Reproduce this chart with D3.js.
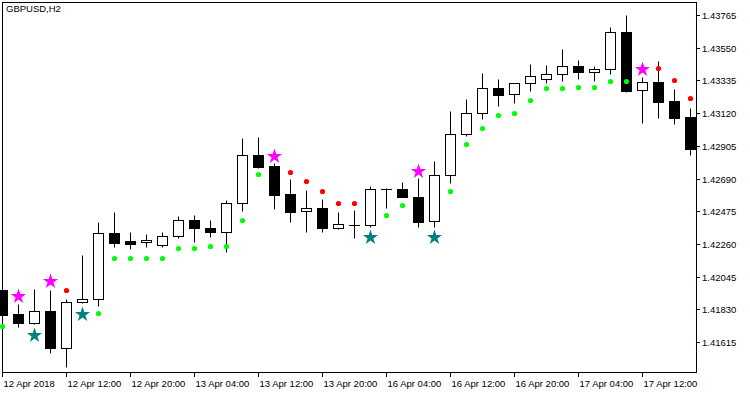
<!DOCTYPE html>
<html>
<head>
<meta charset="utf-8">
<script src="https://cdn.jsdelivr.net/npm/d3@7.9.0/dist/d3.min.js"></script>
<style>
  html, body { margin: 0; padding: 0; background: #fff; }
  svg { display: block; font-family: "Liberation Sans", Arial, sans-serif; }
</style>
</head>
<body>
<svg id="chart" width="750" height="394"></svg>
<script>
const symbolName = "GBPUSD,H2";

// H2 bars, oldest first (bar 0 is the half-hidden one at the left edge)
const opens  = [1.41955, 1.41797, 1.41738, 1.41817, 1.41574, 1.41876, 1.41896, 1.42330, 1.42278, 1.42271,
                1.42251, 1.42311, 1.42416, 1.42363, 1.42337, 1.42528, 1.42844, 1.42771, 1.42587, 1.42475,
                1.42495, 1.42363, 1.42383, 1.42383, 1.42620, 1.42620, 1.42567, 1.42409, 1.42712, 1.42982,
                1.43120, 1.43285, 1.43245, 1.43317, 1.43344, 1.43377, 1.43429, 1.43390, 1.43410, 1.43653,
                1.43271, 1.43324, 1.43199, 1.43094];
const highs  = [1.41960, 1.41863, 1.41962, 1.41955, 1.41896, 1.42186, 1.42403, 1.42469, 1.42337, 1.42324,
                1.42337, 1.42442, 1.42449, 1.42416, 1.42548, 1.42956, 1.42962, 1.42791, 1.42686, 1.42613,
                1.42554, 1.42469, 1.42482, 1.42640, 1.42626, 1.42666, 1.42692, 1.42804, 1.43133, 1.43212,
                1.43383, 1.43344, 1.43317, 1.43443, 1.43436, 1.43541, 1.43469, 1.43429, 1.43686, 1.43765,
                1.43357, 1.43462, 1.43278, 1.43153];
const lows   = [1.41785, 1.41712, 1.41731, 1.41541, 1.41448, 1.41870, 1.41850, 1.42238, 1.42225, 1.42238,
                1.42238, 1.42297, 1.42271, 1.42304, 1.42205, 1.42475, 1.42758, 1.42488, 1.42403, 1.42337,
                1.42337, 1.42357, 1.42297, 1.42370, 1.42495, 1.42567, 1.42370, 1.42370, 1.42659, 1.42969,
                1.43081, 1.43166, 1.43186, 1.43265, 1.43317, 1.43331, 1.43344, 1.43331, 1.43377, 1.43258,
                1.43054, 1.43087, 1.43048, 1.42844];
const closes = [1.41791, 1.41738, 1.41817, 1.41574, 1.41876, 1.41896, 1.42330, 1.42265, 1.42258, 1.42284,
                1.42311, 1.42416, 1.42363, 1.42337, 1.42528, 1.42844, 1.42765, 1.42580, 1.42469, 1.42495,
                1.42363, 1.42390, 1.42383, 1.42620, 1.42620, 1.42567, 1.42403, 1.42712, 1.42982, 1.43120,
                1.43285, 1.43238, 1.43317, 1.43364, 1.43377, 1.43429, 1.43390, 1.43410, 1.43653, 1.43265,
                1.43324, 1.43192, 1.43087, 1.42883];

// trailing dots: green under price (up), red over price (down), null = no dot
const sarUp = [1.41723, null, null, null, null, null, 1.41808, 1.42170, 1.42170, 1.42170,
               1.42170, 1.42236, 1.42236, 1.42249, 1.42249, 1.42420, 1.42717, null, null, null,
               null, null, null, null, 1.42447, 1.42513, null, null, 1.42605, 1.42914,
               1.43019, 1.43105, 1.43118, 1.43204, 1.43283, 1.43283, 1.43289, 1.43289, 1.43329, 1.43329,
               null, null, null, null];
const sarDown = [null, null, null, null, 1.41960, null, null, null, null, null,
                 null, null, null, null, null, null, null, null, 1.42736, 1.42671,
                 1.42611, 1.42526, 1.42526, null, null, null, null, null, null, null,
                 null, null, null, null, null, null, null, null, null, null,
                 null, 1.43414, 1.43335, 1.43217];

// signal stars
const sellBars   = [1, 3, 17, 26, 40];
const sellPrices = [1.41922, 1.42021, 1.42844, 1.42745, 1.43414];
const buyBars    = [2, 5, 23, 27];
const buyPrices  = [1.41666, 1.41808, 1.42311, 1.42315];

const yTicks = [1.43765, 1.43550, 1.43335, 1.43120, 1.42905, 1.42690, 1.42475, 1.42260, 1.42045, 1.41830, 1.41615];
const xTickBars = [0, 4, 8, 12, 16, 20, 24, 28, 32, 36, 40];
const xTickLabels = ["12 Apr 2018", "12 Apr 12:00", "12 Apr 20:00", "13 Apr 04:00", "13 Apr 12:00",
                     "13 Apr 20:00", "16 Apr 04:00", "16 Apr 12:00", "16 Apr 20:00", "17 Apr 04:00", "17 Apr 12:00"];

const svg = d3.select("#chart");
const frame = { left: 2, top: 2, right: 696, bottom: 372 };

// x gives the pixel column of a bar, +0.5 for crisp 1px lines
const x = d3.scaleLinear().domain([0, 43]).range([2, 690]);
const y = d3.scaleLinear().domain([1.41615, 1.43765]).rangeRound([342, 15]);
const px = v => v + 0.5;

// frame
svg.append("rect")
  .attr("x", frame.left + 0.5).attr("y", frame.top + 0.5)
  .attr("width", frame.right - frame.left).attr("height", frame.bottom - frame.top)
  .attr("fill", "none").attr("stroke", "#000");

svg.append("text")
  .attr("x", 6).attr("y", 12)
  .attr("font-size", 9.5)
  .text(symbolName);

// candles
const bars = d3.range(opens.length);
const candles = svg.append("g").attr("class", "candles");
bars.forEach(i => {
  const cx = px(x(i));
  const o = opens[i], c = closes[i];
  candles.append("line")
    .attr("x1", cx).attr("x2", cx)
    .attr("y1", px(y(highs[i]))).attr("y2", px(y(lows[i])))
    .attr("stroke", "#000");
  const top = px(y(Math.max(o, c)));
  const bot = px(y(Math.min(o, c)));
  if (bot - top < 1) {
    candles.append("line")
      .attr("x1", cx - 5.5).attr("x2", cx + 5.5)
      .attr("y1", top).attr("y2", top)
      .attr("stroke", "#000");
  } else {
    candles.append("rect")
      .attr("x", cx - 5).attr("y", top)
      .attr("width", 10).attr("height", bot - top)
      .attr("fill", c >= o ? "#fff" : "#000")
      .attr("stroke", "#000");
  }
});

// dots
const dots = svg.append("g").attr("class", "dots");
bars.forEach(i => {
  if (sarUp[i] != null)
    dots.append("circle").attr("cx", px(x(i))).attr("cy", px(y(sarUp[i]))).attr("r", 2.6).attr("fill", "#00ff00");
  if (sarDown[i] != null)
    dots.append("circle").attr("cx", px(x(i))).attr("cy", px(y(sarDown[i]))).attr("r", 2.6).attr("fill", "#ff0000");
});

// stars
const star = d3.symbol().type(d3.symbolStar).size(72);
sellBars.forEach((b, k) => {
  svg.append("path").attr("d", star)
    .attr("transform", `translate(${px(x(b))},${y(sellPrices[k]) + 1.5})`)
    .attr("fill", "#ff00ff");
});
buyBars.forEach((b, k) => {
  svg.append("path").attr("d", star)
    .attr("transform", `translate(${px(x(b))},${y(buyPrices[k]) + 1.5})`)
    .attr("fill", "#008080");
});

// axes
const xAxis = svg.append("g")
  .attr("transform", `translate(0,${frame.bottom})`)
  .call(d3.axisBottom(x).tickValues(xTickBars).tickSize(5).tickFormat((d, i) => xTickLabels[i]));
xAxis.select(".domain").remove();
xAxis.selectAll("text")
  .attr("text-anchor", "start").attr("x", 1)
  .attr("font-size", 9.5).attr("font-family", "Liberation Sans, Arial, sans-serif");

const yAxis = svg.append("g")
  .attr("transform", `translate(${frame.right},0)`)
  .call(d3.axisRight(y).tickValues(yTicks).tickSize(4).tickFormat(d3.format(".5f")));
yAxis.select(".domain").remove();
yAxis.selectAll("text")
  .attr("x", 6)
  .attr("font-size", 9.5).attr("font-family", "Liberation Sans, Arial, sans-serif");
</script>
</body>
</html>
